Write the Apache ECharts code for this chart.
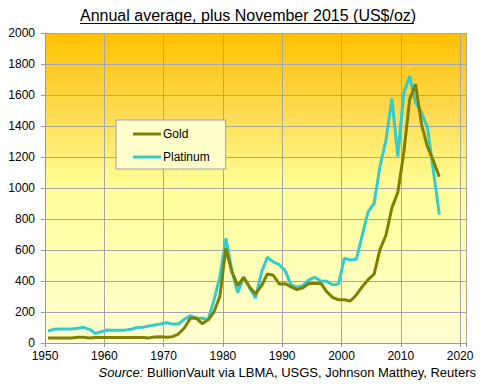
<!DOCTYPE html>
<html><head><meta charset="utf-8">
<script src="https://cdn.jsdelivr.net/npm/echarts@6/dist/echarts.min.js"></script>
<style>html,body{margin:0;padding:0;background:#fff}#c{width:480px;height:390px}</style>
</head><body><div id="c"></div>
<script>
// Period start years; each value is plotted at mid-year. Last entry (2016 slot) = November 2015.
const periods = [1950,1951,1952,1953,1954,1955,1956,1957,1958,1959,
  1960,1961,1962,1963,1964,1965,1966,1967,1968,1969,
  1970,1971,1972,1973,1974,1975,1976,1977,1978,1979,
  1980,1981,1982,1983,1984,1985,1986,1987,1988,1989,
  1990,1991,1992,1993,1994,1995,1996,1997,1998,1999,
  2000,2001,2002,2003,2004,2005,2006,2007,2008,2009,
  2010,2011,2012,2013,2014,2015,2016];
const gold = [33,33,33,33,33,37,37,32,36,36,
  36,36,36,36,36,36,36,33,38,40,
  37,41,58,97,159,161,125,148,200,302,
  610,460,370,424,361,317,368,445,437,381,
  383,362,344,356,384,384,386,331,294,279,
  279,271,310,363,409,445,604,695,872,972,
  1225,1572,1669,1411,1266,1175,1073];
const platinum = [77,88,90,90,90,95,101,88,62,73,
  84,83,83,83,88,100,101,110,116,123,
  131,122,122,153,176,160,160,150,275,430,
  675,470,325,425,357,290,455,553,523,505,
  467,375,360,370,408,424,400,398,375,380,
  548,535,540,695,847,900,1140,1308,1578,1204,
  1612,1722,1550,1487,1390,1110,828];
const xTicks = [1950,1960,1970,1980,1990,2000,2010,2020];
const yTicks = [0,200,400,600,800,1000,1200,1400,1600,1800,2000];

const FONT = 'Arial, "Liberation Sans", sans-serif';
const chart = echarts.init(document.getElementById('c'), null, {renderer: 'svg'});
const toXY = arr => periods.map((p, i) => [p + 0.5, arr[i]]);
const axisCommon = {
  axisLine: {show: true, lineStyle: {color: '#9a9a9a', width: 1}},
  axisTick: {show: true, length: 4, lineStyle: {color: '#9a9a9a'}},
  splitLine: {show: true, lineStyle: {color: '#a6a6a6', width: 1}},
};
chart.setOption({
  animation: false,
  textStyle: {fontFamily: FONT},
  grid: {left: 45, top: 33, right: 14, bottom: 47, show: true, borderWidth: 0,
    backgroundColor: {type: 'linear', x: 0, y: 0, x2: 0, y2: 1, colorStops: [
      {offset: 0, color: '#FFC000'},
      {offset: 0.25, color: '#FFDA50'},
      {offset: 0.5, color: '#FFFF99'},
      {offset: 1, color: '#FFFFD4'}]}},
  xAxis: Object.assign({type: 'value', min: xTicks[0], max: 2021, interval: 10,
    axisLabel: {color: '#000', fontSize: 12, fontFamily: FONT, margin: 7,
      formatter: v => (xTicks.indexOf(v) >= 0 ? String(v) : '')}}, axisCommon),
  yAxis: Object.assign({type: 'value', min: yTicks[0], max: yTicks[yTicks.length - 1], interval: 200,
    axisLabel: {color: '#000', fontSize: 12, fontFamily: FONT, margin: 10,
      formatter: v => String(v)}}, axisCommon),
  legend: {orient: 'vertical', left: 116, top: 120, backgroundColor: '#FFFFCC',
    borderColor: '#a0a0a0', borderWidth: 1, padding: [8, 16, 6, 17],
    itemGap: 11, itemWidth: 28, itemHeight: 3, icon: 'rect',
    textStyle: {color: '#000', fontSize: 12, fontFamily: FONT, padding: [0, 0, 0, -3]},
    data: ['Gold', 'Platinum']},
  series: [
    {name: 'Platinum', type: 'line', symbol: 'none', data: toXY(platinum),
      lineStyle: {color: '#33CCCC', width: 3}, itemStyle: {color: '#33CCCC'}, z: 2},
    {name: 'Gold', type: 'line', symbol: 'none', data: toXY(gold),
      lineStyle: {color: '#808000', width: 3}, itemStyle: {color: '#808000'}, z: 3}
  ],
  graphic: [
    {type: 'text', left: 80, top: 7, style: {text: 'Annual average, plus November 2015 (US$/oz)',
      font: '16px ' + FONT, fill: '#000'}},
    {type: 'line', shape: {x1: 80, y1: 23.5, x2: 414, y2: 23.5}, style: {stroke: '#000', lineWidth: 1}},
    {type: 'text', right: 4, top: 366, style: {
      text: '{i|Source:} BullionVault via LBMA, USGS, Johnson Matthey, Reuters',
      font: '13px ' + FONT, fill: '#000',
      rich: {i: {fontStyle: 'italic', fontSize: 13, fontFamily: FONT}}}}
  ]
});
</script></body></html>
